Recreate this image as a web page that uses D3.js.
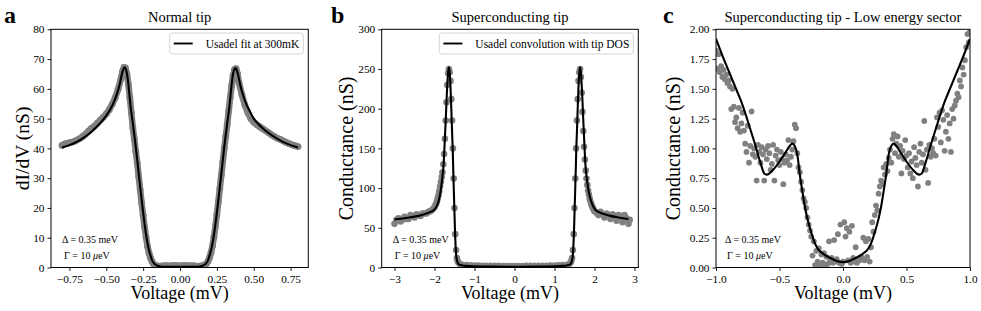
<!DOCTYPE html>
<html><head><meta charset="utf-8">
<script src="https://cdn.jsdelivr.net/npm/d3@7/dist/d3.min.js"></script>
<style>
html,body{margin:0;padding:0;background:#fff;}
svg{display:block;}
text{font-family:"Liberation Serif","Times New Roman",serif;fill:#000;}
</style></head>
<body>
<svg id="chart" width="981" height="311"></svg>
<script>
// ---------------- DATA ----------------
// Panel a : Normal tip
const fitA_V = [-0.80,-0.75,-0.70,-0.65,-0.60,-0.55,-0.50,-0.47,-0.45,-0.43,-0.41,-0.39,-0.383,-0.377,-0.37,-0.362,-0.355,-0.345,-0.335,-0.32,-0.30,-0.28,-0.26,-0.245,-0.23,-0.215,-0.20,-0.19,-0.175,-0.158,-0.13,-0.10,-0.05,0,
  0.05,0.10,0.13,0.158,0.175,0.19,0.20,0.215,0.23,0.245,0.26,0.28,0.30,0.32,0.335,0.345,0.355,0.362,0.37,0.377,0.383,0.39,0.41,0.43,0.45,0.47,0.50,0.55,0.60,0.65,0.70,0.75,0.80];
const fitA_G = [40.3,41.1,42.2,43.7,45.6,48.0,51.0,53.4,55.4,58.0,61.3,65.8,66.8,67.2,66.9,65.6,63.5,59,54,48.5,40.5,31.5,22.6,16.5,11,6.8,4.0,2.5,1.3,0.7,0.35,0.25,0.2,0.2,
  0.2,0.25,0.35,0.7,1.3,2.5,4.0,6.8,11,16.5,22.6,31.5,40.5,48.5,54,59,63.5,65.6,66.7,67.0,66.6,65.5,61.0,57.5,54.8,52.8,50.0,47.3,45.2,43.5,42.1,41.1,40.3];
const dataA_V = [-0.80,-0.78,-0.76,-0.74,-0.72,-0.70,-0.68,-0.66,-0.64,-0.62,-0.60,-0.58,-0.56,-0.54,-0.52,-0.50,-0.48,-0.46,-0.44,-0.42,-0.40,-0.39,-0.38,-0.37,-0.36,-0.35,-0.34,-0.33,-0.32,-0.31,-0.30,-0.29,-0.28,-0.27,-0.26,-0.25,-0.24,-0.23,-0.22,-0.21,-0.20,-0.19,-0.18,-0.16,-0.14,-0.12,-0.10,-0.08,-0.06,-0.04,-0.02,
  0,0.02,0.04,0.06,0.08,0.10,0.12,0.14,0.16,0.18,0.19,0.20,0.21,0.22,0.23,0.24,0.25,0.26,0.27,0.28,0.29,0.30,0.31,0.32,0.33,0.34,0.35,0.36,0.37,0.38,0.39,0.40,0.42,0.44,0.46,0.48,0.50,0.52,0.54,0.56,0.58,0.60,0.62,0.64,0.66,0.68,0.70,0.72,0.74,0.76,0.78,0.80];
const dataA_G = [41.0,41.5,41.8,42.0,42.3,42.8,43.3,44.0,44.8,45.8,46.8,47.5,48.5,49.5,50.5,51.6,53.0,54.8,57.0,59.8,63.5,65.8,67.2,67.0,65.0,61.5,57,52,47,43,39,35,30.5,26,21.5,17.5,13.5,10,7,4.8,3.2,2.0,1.2,0.6,0.4,0.5,0.6,0.5,0.6,0.7,0.6,
  0.5,0.6,0.7,0.5,0.6,0.5,0.4,0.5,0.7,1.3,2.1,3.3,5,7.2,10.2,13.8,17.8,22,26.5,31,35.5,40,44,48,52.5,57,61,64.5,66.5,66.8,65,62,58,54.5,52.0,50.0,48.8,48.0,47.3,46.6,46.0,45.3,44.6,44.0,43.4,43.0,42.5,42.0,41.6,41.2,40.9,40.6];

// Panel b : Superconducting tip
const fitB_V = [-3.0,-2.8,-2.6,-2.4,-2.2,-2.1,-2.0,-1.95,-1.9,-1.85,-1.8,-1.77,-1.75,-1.72,-1.69,-1.665,-1.64,-1.62,-1.6,-1.58,-1.56,-1.545,-1.53,-1.51,-1.49,-1.47,-1.45,-1.42,-1.38,-1.3,-1.2,-1.0,-0.5,0,
  0.5,1.0,1.2,1.3,1.38,1.42,1.45,1.47,1.49,1.51,1.53,1.545,1.56,1.58,1.6,1.62,1.64,1.665,1.69,1.72,1.75,1.77,1.8,1.85,1.9,1.95,2.0,2.1,2.2,2.4,2.6,2.85];
const fitB_G = [60.5,61.8,63.2,65,68,70,73,77,83,95,115,132,152,185,220,243,252,245,228,200,170,150,120,85,50,25,12,6,3.6,2.6,2,1.5,1.2,1.0,
  1.2,1.5,2,2.6,3.6,6,12,25,50,85,120,150,170,200,228,245,252,243,220,185,152,132,115,97,86,79,74,70,68,65,63,61];
const dataB_V = [-3.00,-2.95,-2.90,-2.85,-2.80,-2.75,-2.70,-2.65,-2.60,-2.55,-2.50,-2.45,-2.40,-2.35,-2.30,-2.25,-2.20,-2.15,-2.10,-2.05,-2.00,
  -1.98,-1.96,-1.94,-1.92,-1.90,-1.88,-1.86,-1.84,-1.82,-1.80,-1.78,-1.76,-1.74,-1.72,-1.70,-1.68,-1.66,-1.64,-1.62,-1.60,-1.58,-1.56,-1.54,-1.52,-1.50,-1.48,-1.46,-1.44,-1.42,-1.40,-1.36,-1.32,
  -1.2,-1.1,-1.0,-0.9,-0.8,-0.7,-0.6,-0.5,-0.4,-0.3,-0.2,-0.1,0,0.1,0.2,0.3,0.4,0.5,0.6,0.7,0.8,0.9,1.0,1.1,1.2,
  1.32,1.36,1.40,1.42,1.44,1.46,1.48,1.50,1.52,1.54,1.56,1.58,1.60,1.62,1.64,1.66,1.68,1.70,1.72,1.74,1.76,1.78,1.80,1.82,1.84,1.86,1.88,1.90,1.92,1.94,1.96,1.98,
  2.00,2.05,2.10,2.15,2.20,2.25,2.30,2.35,2.40,2.45,2.50,2.55,2.60,2.65,2.70,2.75,2.80,2.85,2.88];
const dataB_G = [55,60,62,58,60,64,61,61,66,64,63,67,66,65,68,68,68,70,71,73,76,
  78,80,83,87,91,96,102,108,114,120,130,143,162,185,208,230,245,250,246,235,212,185,150,112,75,42,22,12,8,6,4,3.5,
  3,2.8,2.5,2.3,2.1,2.0,2.0,2.0,2.0,1.9,1.9,1.9,1.9,1.9,1.9,2.0,2.0,2.0,2.0,2.0,2.1,2.3,2.5,2.8,3.0,
  3.5,4,6,8,12,22,42,75,112,150,185,212,235,246,250,240,220,196,172,152,136,122,112,104,97,92,87,83,80,77,75,73,
  71,69,66,70,67,63,68,66,61,67,65,59,66,64,57,66,62,55,60];

// Panel c : Superconducting tip - low energy sector
const fitC_V = [-1.0,-0.95,-0.9,-0.85,-0.8,-0.75,-0.7,-0.65,-0.62,-0.6,-0.55,-0.5,-0.45,-0.42,-0.4,-0.38,-0.36,-0.34,-0.32,-0.3,-0.28,-0.26,-0.24,-0.22,-0.2,-0.15,-0.1,-0.05,0,
  0.05,0.1,0.15,0.2,0.22,0.24,0.26,0.28,0.3,0.32,0.34,0.36,0.38,0.4,0.42,0.45,0.5,0.55,0.6,0.62,0.65,0.7,0.75,0.8,0.85,0.9,0.95,1.0];
const fitC_G = [1.92,1.78,1.65,1.52,1.39,1.23,1.06,0.88,0.79,0.78,0.82,0.89,0.97,1.02,1.04,1.02,0.95,0.78,0.64,0.51,0.41,0.33,0.26,0.20,0.16,0.11,0.08,0.055,0.045,
  0.055,0.08,0.11,0.16,0.20,0.26,0.33,0.41,0.51,0.64,0.78,0.95,1.02,1.04,1.02,0.97,0.89,0.82,0.78,0.79,0.88,1.06,1.23,1.39,1.52,1.65,1.78,1.92];
const dataC_V = d3.range(0, 201).map(i => Math.round((-1 + i * 0.01) * 100) / 100);
const dataC_G = [
  1.82,1.67,1.79,1.64,1.69,1.60,1.66,1.58,1.62,1.55,
  1.57,1.52,1.33,1.50,1.35,1.22,1.26,1.17,1.34,1.14,
  1.21,1.30,1.15,1.04,0.97,1.19,0.88,1.02,1.31,0.95,
  1.00,0.93,0.73,1.03,0.97,0.88,1.01,0.95,0.73,0.99,
  0.91,1.02,0.96,0.82,0.87,1.03,0.73,0.94,0.99,0.90,
  0.86,0.97,0.91,0.70,0.88,0.95,0.90,1.07,0.86,0.93,
  0.99,1.06,1.20,1.17,0.96,0.84,0.80,0.72,0.65,0.58,
  0.55,0.50,0.42,0.36,0.31,0.26,0.10,0.22,0.02,0.14,
  0.05,0.16,0.01,0.11,0.04,0.12,0.02,0.09,0.03,0.22,
  0.06,0.08,0.04,0.23,0.05,0.07,0.28,0.04,0.36,0.03,
  0.05,0.38,0.26,0.33,0.06,0.30,0.04,0.35,0.08,0.05,
  0.17,0.04,0.07,0.06,0.09,0.08,0.25,0.06,0.22,0.09,
  0.24,0.05,0.17,0.38,0.30,0.44,0.52,0.48,0.62,0.68,
  0.73,0.70,0.84,0.78,0.87,0.81,0.92,0.99,0.88,1.08,
  1.12,0.96,1.04,1.10,0.93,1.02,0.79,0.98,0.91,1.07,
  0.94,0.84,0.96,0.79,0.89,0.75,1.01,0.92,0.86,0.68,
  0.97,1.04,0.88,0.95,1.23,0.82,0.99,0.71,1.03,0.93,
  1.00,0.96,1.08,0.94,1.26,1.18,1.30,1.05,1.32,1.24,
  0.98,1.14,1.28,1.08,1.21,0.97,1.33,1.25,1.36,1.40,
  1.46,1.43,1.57,1.52,1.68,1.62,1.74,1.85,1.96,1.89,1.98];

// Tick values and labels
const ticksA_x = [-0.75,-0.50,-0.25,0,0.25,0.50,0.75];
const ticksA_y = [0,10,20,30,40,50,60,70,80];
const ticksB_x = [-3,-2,-1,0,1,2,3];
const ticksB_y = [0,50,100,150,200,250,300];
const ticksC_x = [-1.0,-0.5,0,0.5,1.0];
const ticksC_y = [0,0.25,0.5,0.75,1.0,1.25,1.5,1.75,2.0];
const titles = ["Normal tip","Superconducting tip","Superconducting tip - Low energy sector"];
const yLabels = ["dI/dV (nS)","Conductance (nS)","Conductance (nS)"];
const legendLabels = ["Usadel fit at 300mK","Usadel convolution with tip DOS",null];
const panelLetters = ["a","b","c"];

// ---------------- DRAW ----------------
const svg = d3.select("#chart");
const GRAY = "#808080";

const panels = [
  {x0:51, x1:308.3, xd:[-0.875,0.87], yd:[0,80], xt:ticksA_x, yt:ticksA_y, xf:d3.format(".2f"), yf:d3.format("d"),
   fitV:fitA_V, fitG:fitA_G, dV:dataA_V, dG:dataA_G, band:true, r:3.4, ylx:28.5, letterX:4},
  {x0:381.7, x1:638.3, xd:[-3.32,3.095], yd:[0,300], xt:ticksB_x, yt:ticksB_y, xf:d3.format("d"), yf:d3.format("d"),
   fitV:fitB_V, fitG:fitB_G, dV:dataB_V, dG:dataB_G, band:false, r:3.3, ylx:352.5, letterX:331},
  {x0:716, x1:970, xd:[-1,1], yd:[0,2], xt:ticksC_x, yt:ticksC_y, xf:d3.format(".1f"), yf:d3.format(".2f"),
   fitV:fitC_V, fitG:fitC_G, dV:dataC_V, dG:dataC_G, band:false, r:2.9, ylx:679.5, letterX:663}
];
const Y0 = 29.3, Y1 = 267.5;

panels.forEach((p, i) => {
  const x = d3.scaleLinear().domain(p.xd).range([p.x0, p.x1]);
  const y = d3.scaleLinear().domain(p.yd).range([Y1, Y0]);
  const g = svg.append("g");
  const clipId = "clip" + i;
  svg.append("defs").append("clipPath").attr("id", clipId)
    .append("rect").attr("x", p.x0).attr("y", Y0).attr("width", p.x1 - p.x0).attr("height", Y1 - Y0);

  const plot = g.append("g").attr("clip-path", `url(#${clipId})`);
  const pts = p.dV.map((v, k) => [v, p.dG[k]]);
  if (p.band) {
    plot.append("path").datum(pts)
      .attr("d", d3.line().x(d => x(d[0])).y(d => y(d[1])))
      .attr("fill", "none").attr("stroke", GRAY).attr("stroke-width", 6.5)
      .attr("stroke-linejoin", "round").attr("stroke-linecap", "round");
  }
  plot.selectAll("circle").data(pts).join("circle")
    .attr("cx", d => x(d[0])).attr("cy", d => y(d[1]))
    .attr("r", p.r).attr("fill", GRAY);
  const fit = p.fitV.map((v, k) => [v, p.fitG[k]]);
  plot.append("path").datum(fit)
    .attr("d", d3.line().x(d => x(d[0])).y(d => y(d[1])).curve(d3.curveMonotoneX))
    .attr("fill", "none").attr("stroke", "#000").attr("stroke-width", 2.1)
    .attr("stroke-linejoin", "round");

  // axes
  const xa = g.append("g").attr("transform", `translate(0,${Y1})`)
    .call(d3.axisBottom(x).tickValues(p.xt).tickFormat(p.xf).tickSize(3.5).tickPadding(3.5).tickSizeOuter(0));
  const ya = g.append("g").attr("transform", `translate(${p.x0},0)`)
    .call(d3.axisLeft(y).tickValues(p.yt).tickFormat(p.yf).tickSize(3.5).tickPadding(3).tickSizeOuter(0));
  [xa, ya].forEach(a => {
    a.select(".domain").remove();
    a.selectAll("text").attr("font-family", "Liberation Serif, serif").attr("font-size", 11.3).attr("fill", "#000");
    a.selectAll("line").attr("stroke", "#000").attr("stroke-width", 0.9);
  });
  // frame
  g.append("rect").attr("x", p.x0).attr("y", Y0).attr("width", p.x1 - p.x0).attr("height", Y1 - Y0)
    .attr("fill", "none").attr("stroke", "#000").attr("stroke-width", 1);

  // title
  g.append("text").attr("x", (p.x0 + p.x1) / 2).attr("y", 22).attr("text-anchor", "middle")
    .attr("font-size", 14.5).text(titles[i]);
  // x label
  g.append("text").attr("x", (p.x0 + p.x1) / 2).attr("y", 299).attr("text-anchor", "middle")
    .attr("font-size", 18).text("Voltage (mV)");
  // y label
  g.append("text").attr("transform", `translate(${p.ylx},${(Y0 + Y1) / 2}) rotate(-90)`)
    .attr("text-anchor", "middle").attr("font-size", i === 0 ? 19.5 : 20).text(yLabels[i]);
  // panel letter
  g.append("text").attr("x", p.letterX).attr("y", 22.5)
    .attr("font-family", "Liberation Sans, Arial, sans-serif").attr("font-weight", "bold")
    .attr("font-size", 24).text(panelLetters[i]);

  // annotations
  const ax = p.x0 + (i === 2 ? 9 : 11);
  const t1 = g.append("text").attr("x", ax).attr("y", 242.5).attr("font-size", 10);
  t1.text("Δ = 0.35 meV");
  const t2 = g.append("text").attr("x", ax + 2).attr("y", 259).attr("font-size", 10);
  t2.append("tspan").text("Γ = 10 ");
  t2.append("tspan").attr("font-style", "italic").text("μ");
  t2.append("tspan").text("eV");

  // legend
  if (legendLabels[i]) {
    const lg = g.append("g");
    const box = lg.append("rect");
    const txt = lg.append("text").attr("font-size", 11.5).attr("y", 47.5).text(legendLabels[i]);
    const tw = txt.node().getComputedTextLength();
    const right = p.x1 - 5;
    const left = right - (tw + 36 + 4);
    box.attr("x", left).attr("y", 33).attr("width", right - left).attr("height", 21)
      .attr("rx", 2.5).attr("fill", "#fff").attr("fill-opacity", 0.8)
      .attr("stroke", "#d0d0d0").attr("stroke-width", 0.9);
    lg.append("line").attr("x1", left + 4).attr("x2", left + 23).attr("y1", 43.5).attr("y2", 43.5)
      .attr("stroke", "#000").attr("stroke-width", 1.9);
    txt.attr("x", left + 36);
  }
});
</script>
</body></html>
